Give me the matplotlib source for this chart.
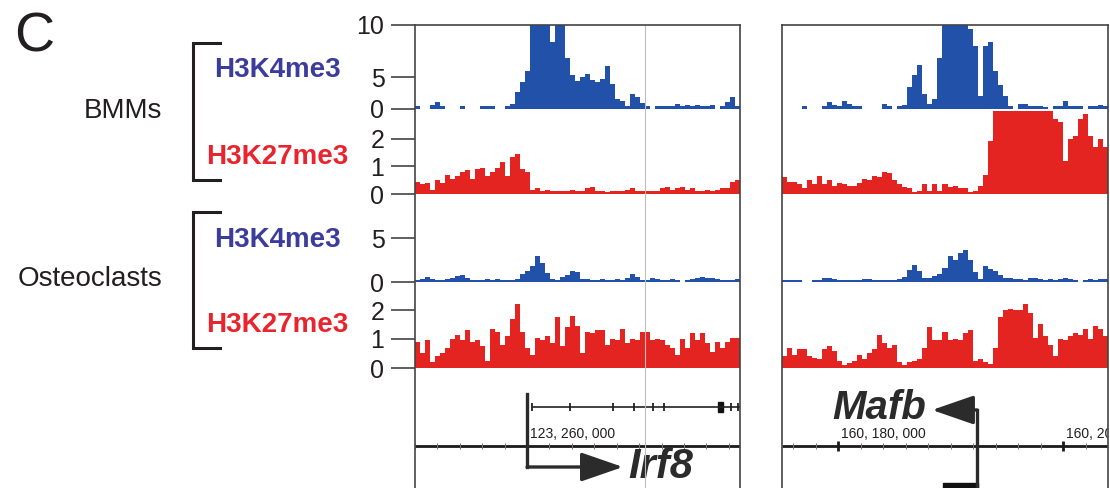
import numpy as np
import matplotlib.pyplot as plt
from matplotlib.patches import Rectangle

plt.rcParams['font.family'] = ['Liberation Sans', 'DejaVu Sans']

W, H = 1110, 488
nan = np.nan

# genome windows shown in the two panels (bp), each split into 65 bins
IRF8_START = 123_250_000
MAFB_START = 160_175_000
SPAN = 29_000

# ---- ChIP-seq coverage (one value per bin) -------------------------------
irf8_bmm_k4 = [0.53, nan, nan, 0.66, 1.05, 0.4, nan, nan, nan, 0.4,
               nan, nan, nan, 0.53, 0.53, 0.4, nan, nan, 0.4, 0.79,
               2.63, 4.21, 5.57, 10, 10, 10, 10, 8.4, 10, 10,
               6.79, 5.16, 4.35, 5.0, 5.25, 4.48, 4.21, 4.74, 6.06, 3.95,
               1.58, 1.19, 0.4, 2.37, 1.84, 0.92, 0.4, nan, 0.4, 0.4,
               0.53, 0.4, 0.79, 0.53, 0.66, 0.4, 0.66, 0.4, 0.53, 0.66,
               nan, 0.4, 1.05, 1.84, 0.4]
irf8_bmm_k27 = [0.45, 0.35, 0.4, 0.15, 0.5, 0.4, 0.7, 0.55, 0.65, 0.8,
                0.85, 0.55, 0.9, 0.95, 0.65, 0.8, 0.95, 1.15, 0.65, 1.35,
                1.45, 0.9, 0.8, 0.15, 0.2, 0.12, 0.15, 0.12, 0.1, 0.1,
                0.1, 0.15, 0.1, 0.12, 0.2, 0.25, 0.1, 0.1, 0.08, 0.1,
                0.1, 0.1, 0.15, 0.2, 0.1, 0.12, 0.1, 0.1, 0.12, 0.2,
                0.25, 0.15, 0.2, 0.25, 0.15, 0.2, 0.1, 0.1, 0.15, 0.12,
                0.15, 0.2, 0.2, 0.45, 0.5]
irf8_oc_k4 = [0.2, 0.3, 0.6, 0.3, 0.2, 0.2, 0.3, 0.4, 0.7, 0.8,
              0.4, 0.2, 0.2, 0.2, 0.3, 0.2, 0.3, 0.2, 0.2, 0.2,
              0.3, 0.9, 1.3, 1.8, 3.0, 2.2, 1.0, 0.3, 0.2, 0.6,
              0.8, 1.2, 1.1, 0.3, 0.3, 0.2, 0.2, 0.3, 0.2, 0.2,
              0.3, 0.2, 0.4, 0.9, 0.6, 0.2, 0.2, 0.4, 0.3, 0.2,
              0.2, 0.3, 0.2, nan, 0.2, 0.3, 0.4, 0.6, 0.4, 0.5,
              0.3, 0.2, 0.2, 0.2, 0.3]
irf8_oc_k27 = [0.9, 0.5, 0.95, 0.2, 0.4, 0.5, 0.7, 1.0, 1.15, 0.95,
               1.3, 0.9, 0.95, 0.75, 0.25, 1.35, 1.25, 0.8, 1.1, 1.7,
               2.2, 1.25, 0.7, 0.45, 1.05, 0.95, 1.1, 0.85, 1.75, 0.75,
               1.4, 1.8, 1.45, 0.5, 1.25, 1.2, 1.3, 1.3, 0.8, 1.0,
               0.95, 1.35, 0.85, 1.0, 0.95, 1.25, 1.25, 0.95, 1.0, 0.95,
               0.8, 0.7, 0.45, 1.0, 0.7, 1.2, 0.95, 1.2, 0.85, 0.55,
               0.9, 0.7, 0.9, 1.05, 1.05]

mafb_bmm_k4 = [nan, nan, nan, nan, 0.4, nan, nan, nan, 0.53, 1.05,
               0.66, 0.4, 1.19, 0.79, 0.4, 0.4, nan, nan, nan, nan,
               0.79, 0.53, nan, 0.4, 0.66, 3.42, 5.16, 6.14, 2.37, 0.79,
               1.58, 6.79, 10, 10, 10, 10, 10, 9.6, 8.0, 1.98,
               8.0, 8.4, 5.57, 3.69, 1.98, 0.53, nan, 0.79, 0.79, 0.4,
               0.4, 0.4, 0.3, nan, 0.4, 0.53, 1.32, 0.53, 0.4, 0.4,
               nan, 0.4, 0.4, 0.66, 0.53]
mafb_bmm_k27 = [0.6, 0.45, 0.45, 0.35, 0.2, 0.5, 0.35, 0.65, 0.35, 0.5,
                0.3, 0.4, 0.35, 0.3, 0.3, 0.4, 0.55, 0.5, 0.65, 0.6,
                0.8, 0.75, 0.5, 0.35, 0.25, 0.2, 0.08, 0.1, 0.35, 0.1,
                0.35, 0.1, 0.35, 0.25, 0.3, 0.2, 0.2, 0.08, 0.1, 0.3,
                0.7, 1.9, 3.5, 3.5, 3.5, 3.5, 3.5, 3.5, 3.5, 3.5,
                3.5, 3.5, 3.5, 3.5, 2.7, 2.6, 1.2, 2.0, 2.1, 2.7,
                2.9, 2.1, 1.7, 2.0, 1.7]
mafb_oc_k4 = [0.2, 0.2, 0.2, 0.2, nan, nan, 0.2, 0.2, 0.4, 0.4,
              0.3, 0.2, 0.2, 0.2, 0.2, 0.2, 0.3, 0.3, 0.2, 0.2,
              0.2, 0.2, 0.2, 0.3, 0.6, 1.4, 1.9, 1.3, 0.4, 0.5,
              0.7, 0.9, 1.6, 3.0, 2.5, 3.3, 3.6, 2.5, 1.1, 0.3,
              1.8, 1.5, 1.2, 0.8, 0.5, 0.4, 0.3, 0.3, 0.2, 0.4,
              0.4, 0.3, 0.2, 0.3, 0.2, 0.3, 0.4, 0.3, 0.2, nan,
              0.2, 0.3, 0.2, 0.3, 0.3]
mafb_oc_k27 = [0.4, 0.7, 0.45, 0.65, 0.65, 0.4, 0.35, 0.3, 0.65, 0.75,
               0.6, 0.25, 0.12, 0.18, 0.25, 0.45, 0.3, 0.5, 0.65, 1.15,
               0.85, 0.7, 0.8, 0.2, 0.12, 0.2, 0.25, 0.3, 0.7, 1.4,
               0.95, 0.95, 1.25, 0.95, 1.0, 0.95, 1.2, 1.3, 0.25, 0.3,
               0.2, 0.15, 0.7, 1.75, 2.0, 2.05, 2.0, 2.0, 2.2, 1.9,
               1.05, 1.5, 1.1, 0.8, 0.4, 1.0, 0.95, 1.1, 1.2, 1.15,
               1.35, 1.0, 1.45, 1.35, 1.1]

# ---- gene annotation ------------------------------------------------------
IRF8_TSS = 123_260_000
irf8_exons = [123_260_450, 123_263_850, 123_267_700, 123_269_550,
              123_271_250, 123_272_250, 123_278_200, 123_278_850]
irf8_thick = (123_277_050, 123_277_500)
MAFB_TSS = 160_192_350
mafb_block = (160_189_320, 160_192_440)

BLUE, RED = '#2151a8', '#e42420'
BLUE_TXT, RED_TXT = '#3b3c9c', '#e8252e'
INK = '#231f20'

fig = plt.figure(figsize=(W / 100, H / 100), dpi=100)


def px_axes(x0, y0, x1, y1):
    ax = fig.add_axes([x0 / W, 1 - y1 / H, (x1 - x0) / W, (y1 - y0) / H])
    ax.patch.set_visible(False)
    return ax


def draw_track(ax, start, vals, color, top, ticks, show_ticks, knots=None):
    vals = np.asarray(vals, float)
    edges = start + np.arange(len(vals) + 1) * SPAN / len(vals)
    xs = np.repeat(edges, 2)[1:-1]
    ys = np.repeat(vals, 2)
    if knots is not None:
        kv, kf = knots
        ax.set_yscale('function', functions=(lambda v: np.interp(v, kv, kf),
                                             lambda f: np.interp(f, kf, kv)))
    ax.fill_between(xs, 0, ys, color=color, lw=0)
    ax.set_xlim(start, start + SPAN)
    ax.set_ylim(0, top)
    ax.set_xticks([])
    for s in ax.spines.values():
        s.set_visible(False)
    if show_ticks:
        ax.set_yticks(ticks)
        ax.tick_params(axis='y', length=17, width=1.1, color='#333333',
                       labelsize=18, pad=5, labelcolor=INK)
    else:
        ax.set_yticks([])


# the top track's axis in the original is not linear: 5 sits at 38 % height
k4_knots = ([0, 5, 10], [0, 0.38, 1.0])
rows = [(25, 109), (111, 194), (194, 282), (281, 368)]
panels = [(415, 740, IRF8_START,
           [irf8_bmm_k4, irf8_bmm_k27, irf8_oc_k4, irf8_oc_k27], True),
          (782, 1108, MAFB_START,
           [mafb_bmm_k4, mafb_bmm_k27, mafb_oc_k4, mafb_oc_k27], False)]
specs = [(BLUE, 10, [0, 5, 10], k4_knots), (RED, 3, [0, 1, 2], None),
         (BLUE, 10, [0, 5], None), (RED, 3, [0, 1, 2], None)]

gene_axes = []
for x0, x1, start, tracks, show in panels:
    for (y0, y1), vals, (col, top, ticks, knots) in zip(rows, tracks, specs):
        draw_track(px_axes(x0, y0, x1, y1), start, vals, col, top, ticks,
                   show, knots)

    # genome ruler + gene track
    g = px_axes(x0, 370, x1, 488)
    g.set_xlim(start, start + SPAN)
    g.set_ylim(118, 0)
    g.axis('off')
    g.plot([start, start + SPAN], [76, 76], color='#1a1a1a', lw=2.0,
           solid_capstyle='butt')
    minors = np.arange(np.ceil(start / 2000) * 2000, start + SPAN, 2000)
    g.vlines(minors, 73, 79, color='#777777', lw=0.7)
    majors = np.arange(np.ceil(start / 20000) * 20000, start + SPAN, 20000)
    g.vlines(majors, 71, 81, color='#1a1a1a', lw=2.0)
    for m in majors:
        # labels run past the panel edge are cut, as in the original
        g.text(m + 250, 71, f"{int(m):,}".replace(',', ', '), ha='left',
               va='bottom', fontsize=10, color=INK, clip_on=True)
    gene_axes.append(g)

    # outer frame of the panel
    fr = px_axes(x0, 25, x1, 500)
    fr.set_xlim(start, start + SPAN)
    fr.set_xticks([])
    fr.set_yticks([])
    fr.spines['bottom'].set_visible(False)
    for s in ('top', 'left', 'right'):
        fr.spines[s].set_color('#444444')
        fr.spines[s].set_linewidth(1.2)
    if show:
        fr.axvline(123_270_540, color='#bdbdbd', lw=0.8)

arrow = dict(arrowstyle='-|>,head_length=1.3,head_width=0.45',
             mutation_scale=20, lw=2.4, color='#2b2b2b', shrinkA=0, shrinkB=0)

# Irf8 (plus strand)
g = gene_axes[0]
g.hlines(37, irf8_exons[0], IRF8_START + SPAN, color='#222222', lw=1.2)
g.vlines(irf8_exons, 33, 41, color='#222222', lw=1.3)
g.add_patch(Rectangle((irf8_thick[0], 32), irf8_thick[1] - irf8_thick[0], 10,
                      color='#111111'))
g.plot([IRF8_TSS, IRF8_TSS], [24, 97], color='#2b2b2b', lw=2.4)
g.annotate('', xy=(123_268_550, 97), xytext=(IRF8_TSS, 97), arrowprops=arrow)
g.text(123_269_000, 97, 'Irf8', fontsize=30, fontweight='bold',
       fontstyle='italic', color='#2b2b2b', ha='left', va='center')

# Mafb (minus strand)
g = gene_axes[1]
g.plot([MAFB_TSS, MAFB_TSS], [40, 130], color='#2b2b2b', lw=2.4)
g.annotate('', xy=(160_188_350, 40), xytext=(MAFB_TSS, 40), arrowprops=arrow)
g.add_patch(Rectangle((mafb_block[0], 113), mafb_block[1] - mafb_block[0], 12,
                      color='#111111'))
g.text(160_187_800, 38, 'Mafb', fontsize=29, fontweight='bold',
       fontstyle='italic', color='#2b2b2b', ha='right', va='center')

# ---- labels on the left ---------------------------------------------------
ann = fig.add_axes([0, 0, 1, 1], zorder=-1)
ann.set_xlim(0, W)
ann.set_ylim(H, 0)
ann.axis('off')
ann.text(34, 38, 'C', fontsize=40, color=INK, ha='center', va='center')
for label, ytop, ybot in [('BMMs', 43, 180), ('Osteoclasts', 212, 348)]:
    ann.plot([220, 193, 193, 220], [ytop, ytop, ybot, ybot], color=INK,
             lw=2.2, solid_joinstyle='miter')
    ann.text(162, (ytop + ybot) / 2 - 1, label, fontsize=20, color=INK,
             ha='right', va='center')
for y, mark, col in [(70, 'H3K4me3', BLUE_TXT), (157, 'H3K27me3', RED_TXT),
                     (240, 'H3K4me3', BLUE_TXT), (325, 'H3K27me3', RED_TXT)]:
    ann.text(277, y, mark, fontsize=20, fontweight='bold', color=col,
             ha='center', va='center')

fig.savefig('out.png', dpi=100)
